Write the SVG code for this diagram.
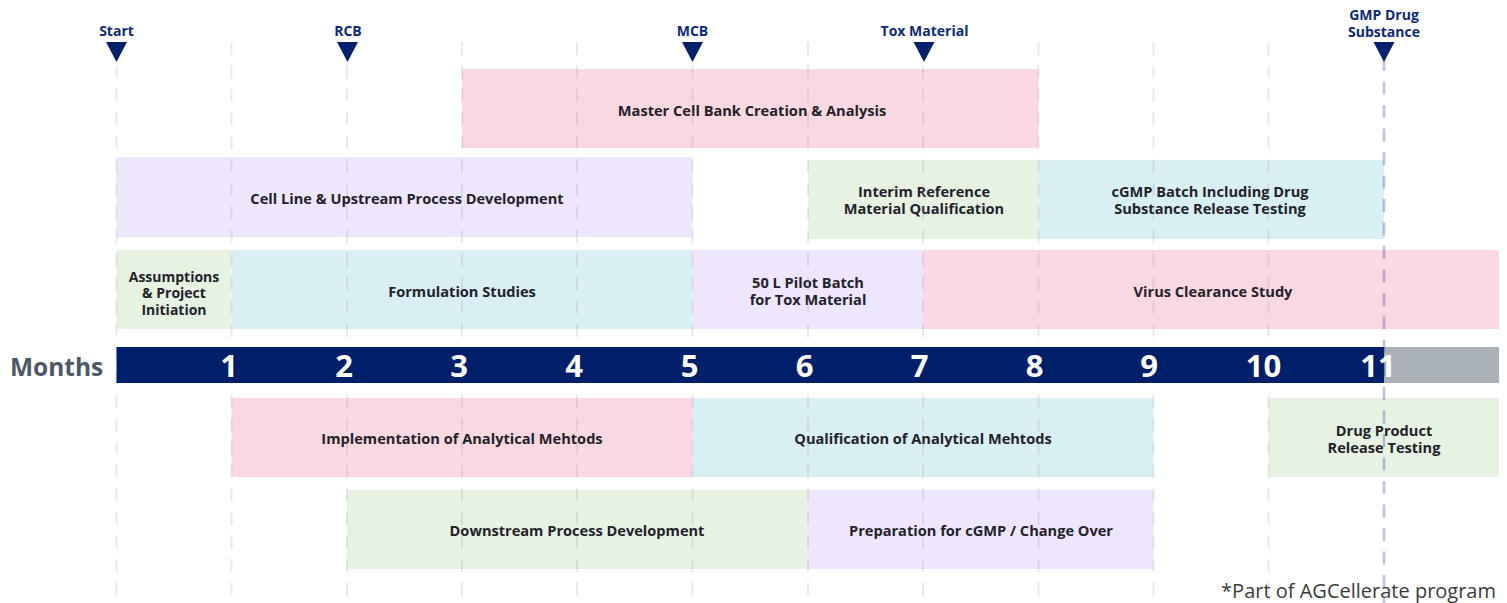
<svg xmlns="http://www.w3.org/2000/svg" width="1507" height="603" viewBox="0 0 1507 603">
  <style>
    .bar text { font-family: "Open Sans", "Liberation Sans", sans-serif; font-weight: 700; font-size: 14.6px; fill: #23222a; text-anchor: middle; }
    .bar text.tight { font-size: 14px; }
    .pink { fill: #f9d8e1; }
    .lav { fill: #eee6fc; }
    .green { fill: #e6f2e2; }
    .cyan { fill: #d8eff3; }
    .grid line { stroke: #9a9aa6; stroke-opacity: 0.22; stroke-width: 2; stroke-dasharray: 13 10.5; }
    .ms text { font-family: "Open Sans", "Liberation Sans", sans-serif; font-weight: 700; font-size: 14px; fill: #0e2a78; text-anchor: middle; }
    .ms path { fill: #05206b; }
    .num { font-family: "Open Sans", "Liberation Sans", sans-serif; font-weight: 700; font-size: 31px; fill: #ffffff; text-anchor: middle; }
  </style>

  <rect width="1507" height="603" fill="#ffffff"/>

  <!-- activity bars -->
  <g id="master-cell-bank" class="bar">
    <rect class="pink" x="462" y="69" width="576.5" height="79"/>
    <text x="752" y="116">Master Cell Bank Creation &amp; Analysis</text>
  </g>
  <g id="cell-line" class="bar">
    <rect class="lav" x="116.5" y="157" width="576" height="80"/>
    <text x="407" y="204">Cell Line &amp; Upstream Process Development</text>
  </g>
  <g id="interim-reference" class="bar">
    <rect class="green" x="808" y="160" width="230.5" height="79"/>
    <text x="924" y="197">Interim Reference</text>
    <text x="924" y="214">Material Qualification</text>
  </g>
  <g id="cgmp-batch" class="bar">
    <rect class="cyan" x="1038.5" y="160" width="345.5" height="79"/>
    <text x="1210" y="197">cGMP Batch Including Drug</text>
    <text x="1210" y="214">Substance Release Testing</text>
  </g>
  <g id="assumptions" class="bar">
    <rect class="green" x="116.5" y="250" width="115" height="79"/>
    <text class="tight" x="174" y="281.5">Assumptions</text>
    <text class="tight" x="174" y="298.3">&amp; Project</text>
    <text class="tight" x="174" y="315">Initiation</text>
  </g>
  <g id="formulation" class="bar">
    <rect class="cyan" x="231.5" y="250" width="461" height="79"/>
    <text x="462" y="297">Formulation Studies</text>
  </g>
  <g id="pilot-batch" class="bar">
    <rect class="lav" x="692.5" y="250" width="230.5" height="79"/>
    <text x="808" y="288">50 L Pilot Batch</text>
    <text x="808" y="305">for Tox Material</text>
  </g>
  <g id="virus-clearance" class="bar">
    <rect class="pink" x="923" y="250" width="576" height="79"/>
    <text x="1213" y="297">Virus Clearance Study</text>
  </g>
  <g id="implementation" class="bar">
    <rect class="pink" x="231.5" y="398" width="461" height="79"/>
    <text x="462" y="444">Implementation of Analytical Mehtods</text>
  </g>
  <g id="qualification" class="bar">
    <rect class="cyan" x="692.5" y="398" width="461" height="79"/>
    <text x="923" y="444">Qualification of Analytical Mehtods</text>
  </g>
  <g id="drug-product" class="bar">
    <rect class="green" x="1268.5" y="398" width="230.5" height="79"/>
    <text x="1384" y="436">Drug Product</text>
    <text x="1384" y="453">Release Testing</text>
  </g>
  <g id="downstream" class="bar">
    <rect class="green" x="347" y="490" width="461" height="79"/>
    <text x="577" y="536">Downstream Process Development</text>
  </g>
  <g id="preparation" class="bar">
    <rect class="lav" x="808" y="490" width="345.5" height="79"/>
    <text x="981" y="536">Preparation for cGMP / Change Over</text>
  </g>

  <!-- month grid -->
  <g id="grid" class="grid">
    <line x1="116.5" y1="42" x2="116.5" y2="603"/>
    <line x1="231.5" y1="42" x2="231.5" y2="603"/>
    <line x1="347" y1="42" x2="347" y2="603"/>
    <line x1="462" y1="42" x2="462" y2="603"/>
    <line x1="577" y1="42" x2="577" y2="603"/>
    <line x1="692.5" y1="42" x2="692.5" y2="603"/>
    <line x1="808" y1="42" x2="808" y2="603"/>
    <line x1="923" y1="42" x2="923" y2="603"/>
    <line x1="1038.5" y1="42" x2="1038.5" y2="603"/>
    <line x1="1153.5" y1="42" x2="1153.5" y2="603"/>
    <line x1="1268.5" y1="42" x2="1268.5" y2="603"/>
  </g>

  <!-- month axis -->
  <g id="axis">
    <text x="10" y="376" font-family="'Open Sans', 'Liberation Sans', sans-serif" font-weight="700" font-size="24.5" fill="#4a5965">Months</text>
    <rect x="116.5" y="347" width="1267.5" height="36" fill="#001f6b"/>
    <rect x="1384" y="347" width="115" height="36" fill="#aab1b7"/>
    <text class="num" x="229" y="376.5">1</text>
    <text class="num" x="344" y="376.5">2</text>
    <text class="num" x="459" y="376.5">3</text>
    <text class="num" x="574" y="376.5">4</text>
    <text class="num" x="689.5" y="376.5">5</text>
    <text class="num" x="804.5" y="376.5">6</text>
    <text class="num" x="919.5" y="376.5">7</text>
    <text class="num" x="1034.5" y="376.5">8</text>
    <text class="num" x="1149" y="376.5">9</text>
    <text class="num" x="1263.5" y="376.5">10</text>
    <text class="num" x="1378" y="376.5">11</text>
  </g>

  <!-- GMP drug substance marker line -->
  <line x1="1384" y1="58" x2="1384" y2="603" stroke="#1e328c" stroke-opacity="0.3" stroke-width="2.5" stroke-dasharray="13 10.5"/>

  <!-- milestones -->
  <g id="ms-start" class="ms">
    <text x="116.5" y="36">Start</text>
    <path d="M106 42 H127 L116.5 62 Z"/>
  </g>
  <g id="ms-rcb" class="ms">
    <text x="348" y="36">RCB</text>
    <path d="M337 42 H358 L347.5 62 Z"/>
  </g>
  <g id="ms-mcb" class="ms">
    <text x="692.5" y="36">MCB</text>
    <path d="M682 42 H703 L692.5 62 Z"/>
  </g>
  <g id="ms-tox" class="ms">
    <text x="924.5" y="36">Tox Material</text>
    <path d="M913.5 42 H934.5 L924 62 Z"/>
  </g>
  <g id="ms-gmp" class="ms">
    <text x="1384" y="20">GMP Drug</text>
    <text x="1384" y="36.5">Substance</text>
    <path d="M1373.5 42 H1394.5 L1384 62 Z"/>
  </g>

  <text x="1496" y="598" text-anchor="end" font-family="'Open Sans', 'Liberation Sans', sans-serif" font-size="20" fill="#3b3b3b">*Part of AGCellerate program</text>
</svg>
